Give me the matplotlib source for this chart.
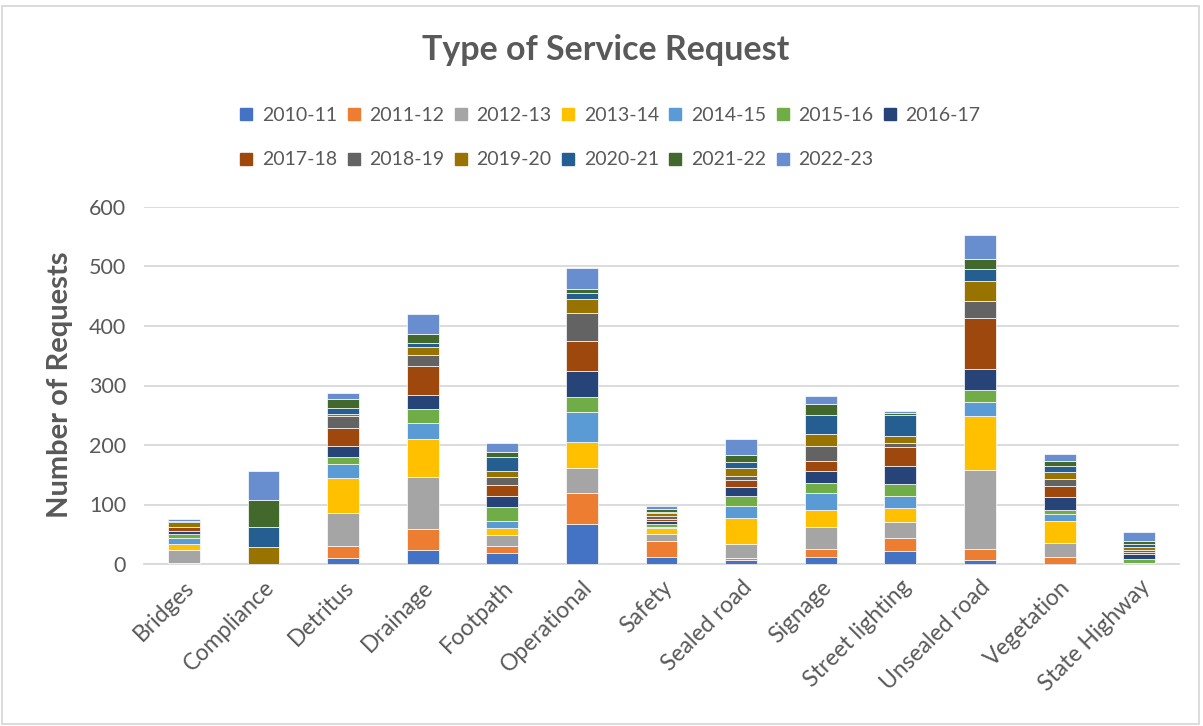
import matplotlib
matplotlib.use("Agg")
import matplotlib.pyplot as plt
from matplotlib.lines import Line2D
from matplotlib.patches import Rectangle
import numpy as np

plt.rcParams['font.family'] = ['Lato', 'DejaVu Sans']

categories = ["Bridges", "Compliance", "Detritus", "Drainage", "Footpath",
              "Operational", "Safety", "Sealed road", "Signage",
              "Street lighting", "Unsealed road", "Vegetation", "State Highway"]

years = ["2010-11", "2011-12", "2012-13", "2013-14", "2014-15", "2015-16",
         "2016-17", "2017-18", "2018-19", "2019-20", "2020-21", "2021-22",
         "2022-23"]

s2010_11 = [1, 0, 10, 24, 18, 68, 11, 6, 11, 22, 7, 0, 0]
s2011_12 = [1, 0, 20, 34, 13, 51, 28, 4, 15, 21, 18, 12, 0]
s2012_13 = [22, 0, 55, 88, 17, 43, 11, 24, 37, 28, 133, 24, 0]
s2013_14 = [10, 0, 60, 64, 13, 43, 10, 44, 28, 23, 90, 37, 0]
s2014_15 = [10, 0, 23, 27, 12, 50, 3, 19, 28, 20, 24, 11, 1]
s2015_16 = [7, 0, 12, 23, 22, 26, 4, 17, 17, 21, 21, 7, 8]
s2016_17 = [4, 0, 18, 24, 19, 44, 6, 16, 20, 29, 35, 21, 8]
s2017_18 = [7, 0, 30, 49, 19, 49, 3, 12, 17, 33, 85, 19, 3]
s2018_19 = [1, 0, 20, 19, 13, 48, 5, 6, 25, 6, 29, 12, 4]
s2019_20 = [7, 28, 4, 12, 11, 24, 4, 13, 20, 12, 33, 12, 4]
s2020_21 = [2, 34, 10, 7, 22, 10, 3, 10, 33, 36, 20, 9, 6]
s2021_22 = [1, 45, 16, 16, 10, 7, 5, 12, 18, 3, 17, 9, 4]
s2022_23 = [2, 49, 10, 34, 14, 35, 5, 27, 13, 3, 41, 12, 16]

series = [s2010_11, s2011_12, s2012_13, s2013_14, s2014_15, s2015_16,
          s2016_17, s2017_18, s2018_19, s2019_20, s2020_21, s2021_22,
          s2022_23]

colors = ["#4472C4", "#ED7D31", "#A5A5A5", "#FFC000", "#5B9BD5", "#70AD47",
          "#264478", "#9E480E", "#636363", "#997300", "#255E91", "#43682B",
          "#698ED0"]

TXT = "#595959"
GRID = "#D9D9D9"

W, H = 1203, 726
fig = plt.figure(figsize=(W / 100, H / 100), dpi=100)
ax = fig.add_axes([144 / W, 1 - 564 / H, (1179 - 144) / W, (564 - 207) / H])

x = np.arange(len(categories))
bottom = np.zeros(len(categories))
for vals, col, yr in zip(series, colors, years):
    v = np.array(vals, dtype=float)
    ax.bar(x, v, width=0.4, bottom=bottom, color=col, edgecolor="white",
           linewidth=0.5, label=yr, zorder=3)
    bottom += v

ax.set_xlim(-0.5, len(categories) - 0.5)
ax.set_ylim(0, 600)
ax.set_yticks(np.arange(0, 601, 100))
ax.yaxis.grid(True, color=GRID, linewidth=1.3, zorder=0)
for s in ["top", "right", "left"]:
    ax.spines[s].set_visible(False)
ax.spines["bottom"].set_color(GRID)
ax.spines["bottom"].set_linewidth(1.3)
ax.tick_params(axis="both", length=0, colors=TXT)
ax.tick_params(axis="y", pad=13, labelsize=15.5)
ax.set_xticks(x)
ax.set_xticklabels(categories, rotation=45, ha="right", rotation_mode="anchor")
ax.tick_params(axis="x", pad=9, labelsize=16.5)

fig.text(60 / W, 1 - 385 / H, "Number of Requests", rotation=90, ha="center",
         va="center", fontsize=21, fontweight="bold", color=TXT)

fig.text(606 / W, 1 - 50 / H, "Type of Service Request", ha="center",
         va="center", fontsize=24.5, fontweight="bold", color=TXT)

# Legend laid out row by row: 7 entries on the first line, 6 on the second
handles = [Line2D([], [], marker="s", linestyle="none", markersize=8.5,
                  markerfacecolor=c, markeredgecolor=c) for c in colors]
order = []
for k in range(7):
    order.append(k)
    if k + 7 < 13:
        order.append(k + 7)
leg = fig.legend([handles[i] for i in order], [years[i] for i in order],
                 ncol=7, loc="center", bbox_to_anchor=(610 / W, 1 - 137.5 / H),
                 frameon=False, fontsize=14, handlelength=0.7,
                 handletextpad=0.45, columnspacing=0.5, labelspacing=1.42,
                 labelcolor=TXT)

fig.patches.append(Rectangle((2 / W, 2 / H), (1199 - 2) / W, (720 - 2) / H,
                             transform=fig.transFigure, fill=False,
                             edgecolor=GRID, linewidth=1.3))

fig.savefig("out.png", dpi=100)
